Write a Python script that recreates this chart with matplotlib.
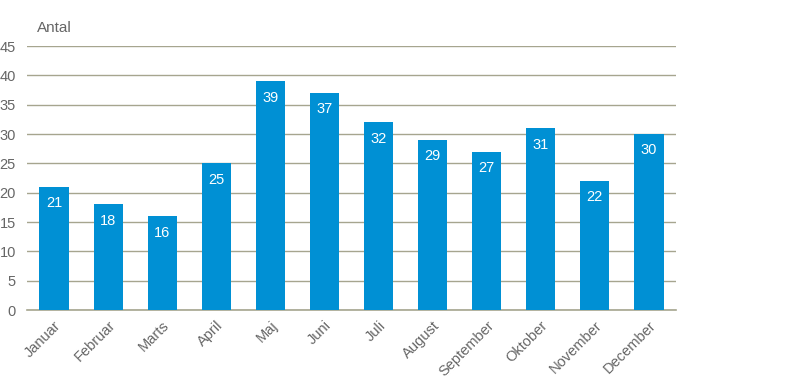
import matplotlib
matplotlib.use("Agg")
import matplotlib.pyplot as plt

months = ["Januar", "Februar", "Marts", "April", "Maj", "Juni", "Juli",
          "August", "September", "Oktober", "November", "December"]
values = [21, 18, 16, 25, 39, 37, 32, 29, 27, 31, 22, 30]
yticks = [0, 5, 10, 15, 20, 25, 30, 35, 40, 45]

plt.rcParams['font.family'] = ['Liberation Sans', 'DejaVu Sans']

fig = plt.figure(figsize=(7.89, 3.78), dpi=100)
ax = fig.add_axes([27/789, 1-310/378, (676-27)/789, (310-46)/378])

bar_color = "#0090d4"
grid_color = "#a6a58f"
text_color = "#666666"

x = list(range(len(months)))
ax.bar(x, values, width=0.54, color=bar_color, zorder=3)
for xi, v in zip(x, values):
    ax.text(xi, v - 1.6, str(v), ha="center", va="top", color="white",
            fontsize=10.5, zorder=4)

ax.set_xlim(-0.5, len(months) - 0.5)
ax.set_ylim(0, 45)
ax.set_yticks(yticks)
ax.set_yticklabels([str(t) for t in yticks])
ax.yaxis.grid(True, color=grid_color, linewidth=1)
ax.set_axisbelow(True)
ax.tick_params(axis="y", length=0, pad=8, labelsize=10.5, labelcolor=text_color)
ax.set_xticks(x)
ax.set_xticklabels(months, rotation=45, ha="right", rotation_mode="anchor")
ax.tick_params(axis="x", length=0, pad=6, labelsize=10.5, labelcolor=text_color)
for s in ["top", "right", "left"]:
    ax.spines[s].set_visible(False)
ax.spines["bottom"].set_color(grid_color)
ax.spines["bottom"].set_linewidth(1.2)

fig.text(37/789, 1-28/378, "Antal", ha="left", va="center", fontsize=11,
         color=text_color)

fig.savefig("out.png", dpi=100)
